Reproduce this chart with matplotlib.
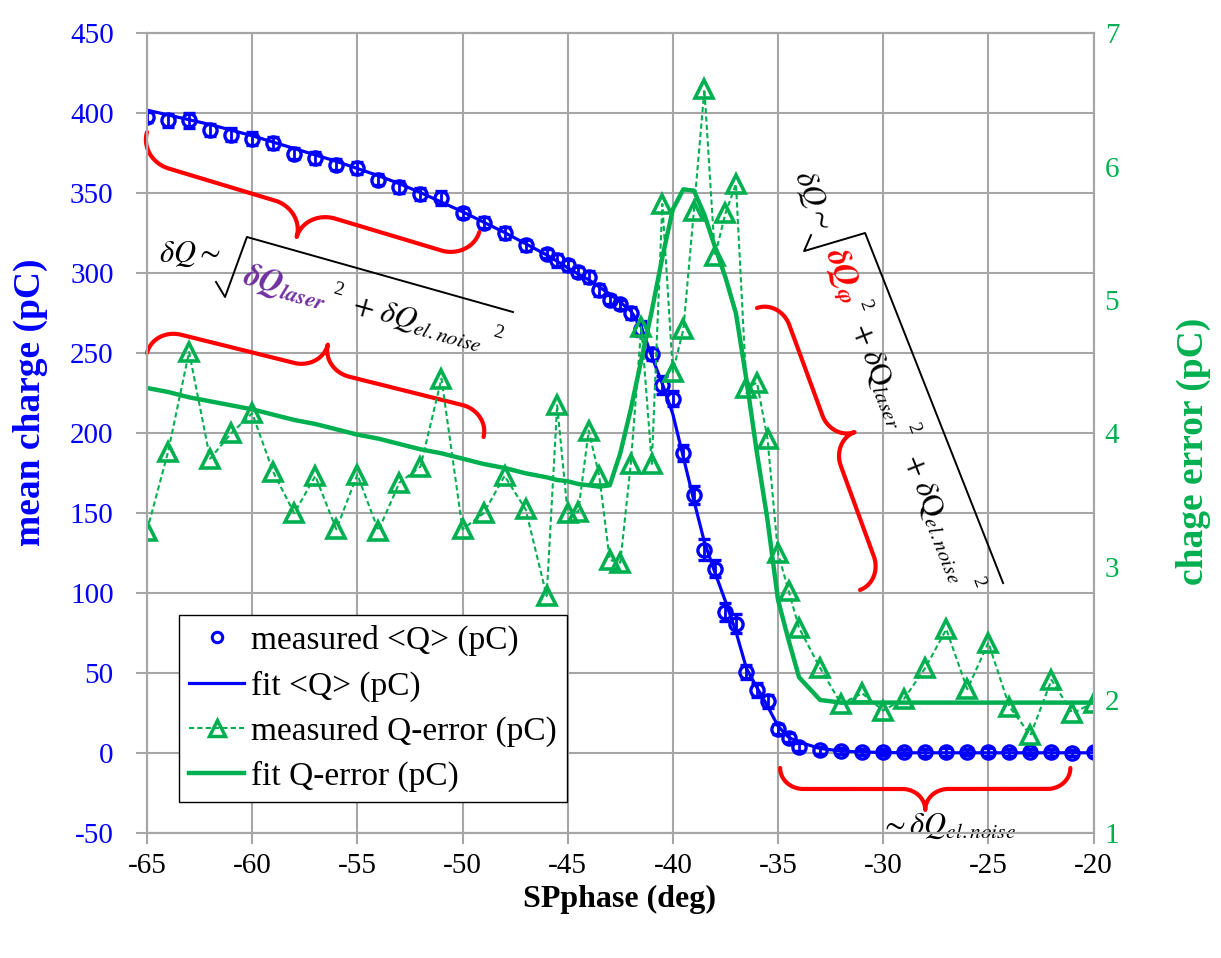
import matplotlib
matplotlib.use('Agg')
import matplotlib.pyplot as plt
from matplotlib.lines import Line2D
import numpy as np

plt.rcParams['font.family'] = ['Liberation Serif', 'DejaVu Serif']
plt.rcParams['mathtext.fontset'] = 'stix'
plt.rcParams['axes.unicode_minus'] = False

BLUE = '#0000FF'
GREEN = '#00B050'
RED = '#FF0000'
PURPLE = '#7030A0'
GRID = '#A6A6A6'

# SP phase (deg)
phase = [-65, -64, -63, -62, -61, -60, -59, -58, -57, -56, -55, -54, -53, -52, -51,
         -50, -49, -48, -47, -46, -45.5, -45, -44.5, -44, -43.5, -43, -42.5, -42,
         -41.5, -41, -40.5, -40, -39.5, -39, -38.5, -38, -37.5, -37, -36.5, -36,
         -35.5, -35, -34.5, -34, -33, -32, -31, -30, -29, -28, -27, -26, -25, -24,
         -23, -22, -21, -20]

# measured mean charge <Q> (pC)
q_mean = [397.7, 395.6, 395.6, 389.8, 386.7, 384.2, 381.4, 374.8, 372.0, 368.0, 366.0,
          358.5, 354.0, 349.4, 347.3, 337.7, 331.7, 325.2, 317.5, 312.3, 308.1, 305.0,
          300.8, 297.7, 289.4, 283.6, 280.6, 275.2, 265.4, 249.8, 230.0, 221.7, 187.7,
          161.3, 127.3, 115.4, 88.3, 81.0, 50.8, 39.4, 32.5, 15.4, 9.8, 3.9, 1.9, 1.4,
          0.8, 0.8, 0.7, 0.7, 0.8, 0.7, 0.6, 0.5, 0.8, 0.6, 0.2, 0.5]

# fit of <Q> (pC)
q_fit = [402, 399, 396, 393, 389.5, 386, 382, 378, 374, 370, 365.5, 361, 356, 350.5,
         344.5, 338.5, 332, 325.5, 318.5, 311.5, 307.5, 303.5, 299.5, 296, 291.5, 287,
         282, 276.5, 266.5, 248, 231, 212, 185, 158, 132, 113, 95, 76, 53, 41, 29.5,
         17, 10, 7, 3, 1.4, 0.8, 0.5, 0.3, 0.3, 0.3, 0.3, 0.3, 0.3, 0.3, 0.3, 0.3, 0.3]

# measured charge error (pC)
q_err = [3.27, 3.86, 4.61, 3.81, 4.00, 4.15, 3.71, 3.40, 3.68, 3.28, 3.69, 3.27, 3.63,
         3.75, 4.41, 3.28, 3.40, 3.68, 3.43, 2.78, 4.21, 3.40, 3.41, 4.02, 3.68, 3.05,
         3.03, 3.77, 4.80, 3.77, 5.72, 4.46, 4.78, 5.67, 6.58, 5.33, 5.65, 5.87, 4.34,
         4.38, 3.96, 3.10, 2.82, 2.54, 2.24, 1.97, 2.05, 1.92, 2.01, 2.24, 2.53, 2.08,
         2.43, 1.95, 1.735, 2.15, 1.90, 1.98]

# fit of charge error (pC)
err_fit = [4.34, 4.31, 4.27, 4.24, 4.21, 4.18, 4.14, 4.10, 4.07, 4.03, 3.99, 3.96, 3.92,
           3.88, 3.85, 3.81, 3.77, 3.74, 3.70, 3.67, 3.65, 3.64, 3.62, 3.61, 3.60, 3.61,
           3.85, 4.18, 4.55, 4.92, 5.32, 5.68, 5.83, 5.82, 5.64, 5.40, 5.17, 4.90, 4.40,
           3.85, 3.35, 2.75, 2.45, 2.17, 2.00, 1.98, 1.98, 1.98, 1.98, 1.98, 1.98, 1.98,
           1.98, 1.98, 1.98, 1.98, 1.98, 1.98]

fig = plt.figure(figsize=(12.21, 9.58), dpi=100)
ax = fig.add_axes([0.1204, 0.1302, 0.7752, 0.8350])
ax2 = ax.twinx()

# charge (left axis)
ax.errorbar(phase, q_mean, yerr=q_err, fmt='o', color=BLUE, mfc='none', mec=BLUE,
            ms=9.5, mew=2.4, elinewidth=2, capsize=4.5, capthick=2, zorder=4)
ax.plot(phase, q_fit, color=BLUE, lw=2.3, zorder=5)

# error (right axis)
ax2.plot(phase, q_err, color=GREEN, ls='--', dashes=(2.5, 1.5), lw=1.5, marker='^',
         ms=12.5, mfc='none', mec=GREEN, mew=2.6)
ax2.plot(phase, err_fit, color=GREEN, lw=3.2)

ax.set_xlim(-65, -20)
ax.set_ylim(-50, 450)
ax2.set_ylim(1, 7)
ax.set_xticks(np.arange(-65, -19, 5))
ax.set_yticks(np.arange(-50, 451, 50))
ax2.set_yticks(np.arange(1, 8, 1))
ax.grid(True, color=GRID, lw=1.5)
ax.set_axisbelow(True)
for a in (ax, ax2):
    for s in a.spines.values():
        s.set_color(GRID)
        s.set_linewidth(1.5)

ax.tick_params(axis='y', colors=GRID, labelcolor=BLUE, labelsize=21, length=8,
               width=1.5, pad=16)
ax.tick_params(axis='x', colors=GRID, labelcolor='black', labelsize=21, length=8,
               width=1.5, pad=6)
ax2.tick_params(axis='y', colors=GRID, labelcolor=GREEN, labelsize=21, length=0, pad=8)

ax.set_xlabel('SPphase (deg)', fontsize=23, fontweight='bold')
ax.xaxis.set_label_coords(0.499, -0.065)
ax.set_ylabel('mean charge (pC)', fontsize=27, fontweight='bold', color=BLUE)
ax.yaxis.set_label_coords(-0.105, 0.539)
ax2.set_ylabel('chage error (pC)', fontsize=27, fontweight='bold', color=GREEN)
ax2.yaxis.set_label_coords(1.087, 0.478)

handles = [
    Line2D([], [], ls='none', marker='o', mfc='none', mec=BLUE, ms=7.5, mew=2.2),
    Line2D([], [], color=BLUE, lw=2.3),
    Line2D([], [], color=GREEN, ls='--', dashes=(2.5, 1.5), lw=1.5, marker='^', ms=11,
           mfc='none', mec=GREEN, mew=2.5),
    Line2D([], [], color=GREEN, lw=3.2),
]
labels = ['measured <Q> (pC)', 'fit <Q> (pC)', 'measured Q-error (pC)', 'fit Q-error (pC)']
leg = ax2.legend(handles, labels, loc='lower left', bbox_to_anchor=(0.034, 0.039),
                 borderaxespad=0, fontsize=24, fancybox=False, framealpha=1,
                 edgecolor='black', handlelength=1.65, handletextpad=0.2,
                 labelspacing=0.42, borderpad=0.3)
leg.get_frame().set_linewidth(1)


def brace(p1, tip, p2, n=60):
    # curly brace from p1 to p2 (data coords), cusp pointing towards tip
    tr = ax.transData
    a, b, t = tr.transform([p1, p2, tip])
    length = np.hypot(*(b - a))
    u = (b - a) / length
    nrm = np.array([-u[1], u[0]])
    depth = np.dot(t - (a + b) / 2, nrm)
    r = abs(depth) / 2 * np.sign(depth)
    w = 0.55 * abs(depth)
    th = np.linspace(0, np.pi / 2, n)
    # end curl, straight part, curl into the cusp
    s1 = w - w * np.cos(th)
    h1 = r * np.sin(th)
    s2 = length / 2 - w + w * np.sin(th)
    h2 = 2 * r - r * np.cos(th)
    s = np.concatenate([s1, s2])
    h = np.concatenate([h1, h2])
    s = np.concatenate([s, length - s[::-1]])
    h = np.concatenate([h, h[::-1]])
    pts = a + np.outer(s, u) + np.outer(h, nrm)
    pts = tr.inverted().transform(pts)
    ax.plot(pts[:, 0], pts[:, 1], color=RED, lw=3, solid_capstyle='round',
            clip_on=False, zorder=6)


brace((-65, 388.3), (-57.1, 319.6), (-49.2, 325.8))
brace((-65, 250.2), (-56.7, 256.4), (-49.0, 197.7))
brace((-36.0, 278.3), (-31.1, 191.4), (-31.1, 102.1))
brace((-34.9, -9.2), (-27.35, -35.4), (-21.1, -9.2))

# left formula
kw = dict(ha='center', va='center', rotation_mode='anchor', zorder=7)
ax.text(-62.96, 311.9, r'$\delta Q{\sim}$', fontsize=22, **kw)
ax.plot([-61.72, -61.29, -60.25, -47.6], [294.6, 285.2, 322.7, 275.8], color='black',
        lw=1.4, zorder=7)
ax.text(-58.44, 291.4, r'$\mathbfit{\delta Q}_{\mathbfit{laser}}$', fontsize=23,
        color=PURPLE, rotation=-15.6, **kw)
ax.text(-55.92, 289.6, '2', fontsize=14, rotation=-15.6, **kw)
ax.text(-52.12, 269.0, r'$+\ \delta Q_{el.noise}$', fontsize=22, rotation=-15.6, **kw)
ax.text(-48.31, 262.7, '2', fontsize=14, rotation=-15.6, **kw)

# right formula
ax.text(-33.34, 345.8, r'$\delta Q{\sim}$', fontsize=22, rotation=-68.5, **kw)
ax.plot([-33.43, -33.76, -30.86, -24.30], [323.9, 313.9, 325.2, 106.4], color='black',
        lw=1.4, zorder=7)
ax.text(-31.97, 298.9, r'$\mathbfit{\delta Q}_{\mathbfit{\varphi}}$', fontsize=23,
        color=RED, rotation=-68.5, **kw)
ax.text(-30.86, 280.2, '2', fontsize=14, rotation=-68.5, **kw)
ax.text(-30.24, 236.4, r'$+\ \delta\mathrm{Q}_{laser}$', fontsize=22, rotation=-68.5, **kw)
ax.text(-28.58, 203.3, '2', fontsize=14, rotation=-68.5, **kw)
ax.text(-27.53, 147.1, r'$+\ \delta\mathrm{Q}_{el.noise}$', fontsize=22, rotation=-68.5, **kw)
ax.text(-25.49, 107.1, '2', fontsize=14, rotation=-68.5, **kw)

ax.text(-26.92, -45.4, r'${\sim}\delta Q_{el.noise}$', fontsize=22, **kw)

fig.savefig('out.png', dpi=100)
